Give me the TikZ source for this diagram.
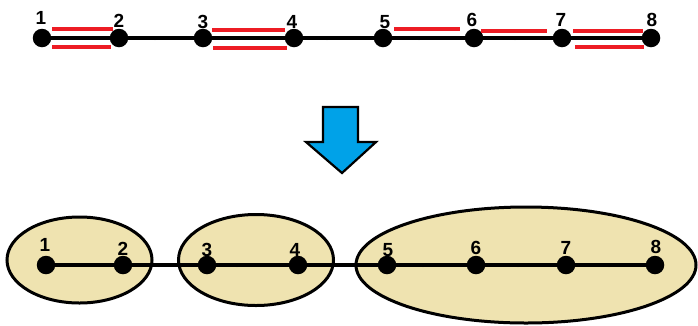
\documentclass[tikz,border=0pt]{standalone}
\usepackage{fontspec}
\setmainfont{Liberation Sans}
\definecolor{pairred}{RGB}{237,28,36}
\definecolor{arrowblue}{RGB}{0,162,232}
\definecolor{grouptan}{RGB}{239,227,176}
\begin{document}
\begin{tikzpicture}[x=1pt,y=-1pt,
  vertex/.style={circle,fill=black,inner sep=0pt,minimum size=18.5pt},
  num/.style={font=\bfseries\fontsize{19}{19}\selectfont,inner sep=0pt,anchor=center},
  chain/.style={line width=3.2pt},
  pair/.style={draw=pairred,line width=3.3pt},
  group/.style={draw=black,line width=3pt,fill=grouptan},
  tick/.style={circle,fill=black,inner sep=0pt,minimum size=4pt}]
\useasboundingbox (0,0) rectangle (698,325);

% ---- upper chain ----
\foreach \i/\x in {1/42,2/119,3/203,4/294,5/383,6/474,7/562,8/651}
  \node[vertex] (n\i) at (\x,38) {};
\draw[chain] (n1) -- (n8);
\foreach \x in {155,233,327,419,515,605}
  \node[tick] at (\x,38) {};
% matched pairs
\draw[pair] (52,29) -- (113,29);
\draw[pair] (52,47) -- (111,47);
\draw[pair] (212,30) -- (285,30);
\draw[pair] (213,48) -- (287,48);
\draw[pair] (394,29) -- (460,29);
\draw[pair] (481,31) -- (547,31);
\draw[pair] (573,31) -- (643,31);
\draw[pair] (575,47) -- (644,47);
% labels
\foreach \i/\x/\y in {1/41/18,2/119/21,3/203/22,4/292/22,5/385/22,6/472/20,7/561/20,8/652/20}
  \node[num] (t\i) at (\x,\y) {\i};

% ---- arrow ----
\filldraw[fill=arrowblue,draw=black,line width=2.2pt,line join=miter]
  (323,107) -- (358,107) -- (358,142) -- (376,142) -- (342,173)
  -- (306,142) -- (323,142) -- cycle;

% ---- lower chain with groups ----
\draw[group] (79.5,260) ellipse [x radius=72.5,y radius=43];
\draw[group] (256,260) ellipse [x radius=77.5,y radius=45.5];
\draw[group] (526,265) ellipse [x radius=170,y radius=58];
\foreach \i/\x in {1/46,2/123,3/207,4/298,5/387,6/476,7/566,8/655}
  \node[vertex] (m\i) at (\x,265) {};
\draw[chain] (m1) -- (m8);
\foreach \x in {159,237,423,518,609}
  \node[tick] at (\x,265) {};
\foreach \i/\x/\y in {1/45/245,2/123/249,3/207/250,4/295/250,5/388/250,6/476/248,7/566/248,8/656/247}
  \node[num] (b\i) at (\x,\y) {\i};
\end{tikzpicture}
\end{document}
